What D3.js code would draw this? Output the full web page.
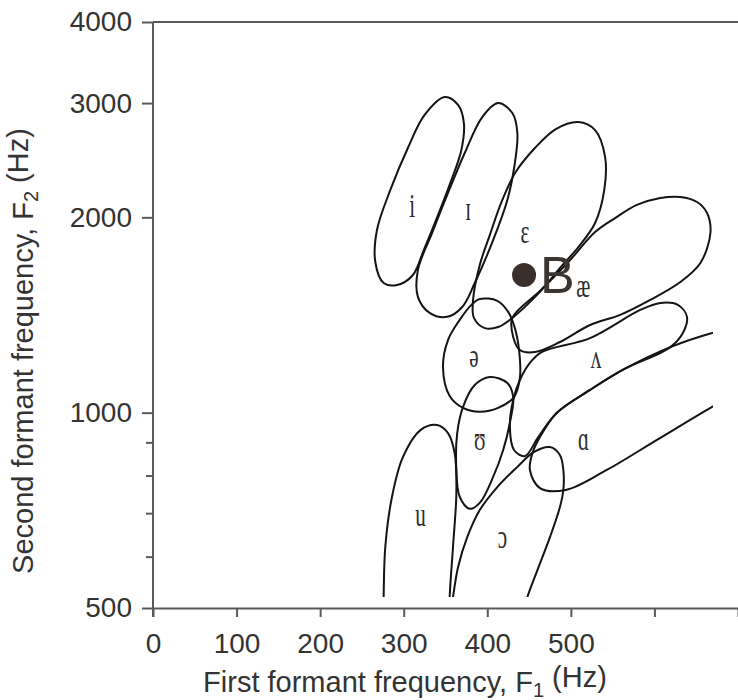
<!DOCTYPE html>
<html>
<head>
<meta charset="utf-8">
<script src="https://cdn.jsdelivr.net/npm/d3@7"></script>
<style>
    body { margin: 0; background: #fff; }
    svg { display: block; }
</style>
</head>
<body>
<svg id="chart" width="738" height="700"></svg>
<script>

// Axis ticks
const f1Ticks = [0, 100, 200, 300, 400, 500, 600, 700];
const f1Labels = [0, 100, 200, 300, 400, 500];
const f2Major = [500, 1000, 2000, 3000, 4000];
const f2Minor = [600, 700, 800, 900];

// Vowel region outlines, [F1 Hz, F2 Hz]
const vowelI = [[349,3065],[365,2980],[372,2795],[369,2540],[357,2283],[341,2016],[324,1781],[311,1630],[292,1573],[276,1584],[266,1707],[268,1912],[284,2204],[305,2558],[325,2876]];
const vowelSmallCapI = [[413,3000],[430,2896],[436,2697],[433,2425],[424,2127],[407,1845],[385,1584],[370,1455],[352,1405],[331,1425],[317,1508],[317,1659],[334,1892],[353,2181],[373,2513],[394,2855]];
const vowelEpsilon = [[509,2805],[529,2726],[541,2477],[540,2204],[529,1960],[509,1800],[487,1671],[463,1535],[430,1400],[413,1355],[397,1350],[384,1400],[383,1492],[391,1689],[403,1878],[418,2127],[434,2349],[457,2558],[482,2736]];
const vowelAsh = [[430,1400],[463,1540],[497,1707],[529,1898],[553,1995],[579,2090],[607,2142],[631,2150],[651,2112],[663,2031],[667,1892],[655,1701],[631,1590],[595,1492],[559,1415],[523,1365],[487,1285],[457,1240],[439,1249],[431,1308]];
const vowelSchwa = [[391,1497],[412,1487],[425,1430],[433,1350],[438,1249],[439,1131],[432,1057],[413,1017],[391,1003],[371,1017],[355,1061],[347,1176],[353,1294],[367,1390],[381,1466]];
const vowelWedge = [[639,1405],[634,1327],[619,1262],[562,1164],[523,1084],[483,999],[461,917],[445,857],[432,876],[427,957],[431,1046],[439,1123],[451,1193],[465,1240],[523,1303],[583,1440],[607,1476],[628,1466]];
const vowelUpsilon = [[403,1135],[424,1111],[431,1057],[427,964],[419,876],[407,796],[391,726],[379,711],[367,742],[363,816],[364,930],[371,1021],[385,1103]];
const vowelScriptA = [[451,816],[463,765],[494,760],[543,816],[603,908],[669,1021],[726,1123],[762,1249],[726,1380],[669,1327],[619,1262],[562,1164],[523,1084],[483,999],[463,917],[454,866]];
const vowelU = [[340,957],[353,930],[361,866],[363,752],[359,622],[355,520],[354,446],[317,408],[276,446],[276,520],[278,622],[286,742],[299,854],[320,940]];
const vowelOpenO = [[475,885],[487,860],[491,816],[491,760],[487,716],[475,643],[460,572],[448,520],[438,471],[397,416],[354,471],[359,520],[365,578],[376,643],[391,708],[412,768],[436,825],[456,870]];

// Vowel symbols and where they sit (baseline), in Hz
const vowelSymbols = ["i", "ɪ", "ɛ", "æ", "ə", "ʌ", "ʊ", "ɑ", "u", "ɔ"];
const symbolF1 = [310, 377, 445, 515, 384, 530, 391, 515, 320, 418];
const symbolF2 = [2000, 1981, 1825, 1508, 1176, 1172, 876, 876, 668, 618];

// Speaker point
const pointName = ["B"];
const pointF1 = [444];
const pointF2 = [1630];

function drawChart() {

    const svg = d3.select("#chart");
    const left = 153, right = 738, top = 22, bottom = 608;

    const x = d3.scaleLinear()
                .domain([0, 700])
                .range([left, right]);

    const y = d3.scaleLog()
                .domain([500, 4000])
                .range([bottom, top]);

    const axisColor = "#5a5a5a";
    const textColor = "#333";
    const sansFont = "'Liberation Sans', Arial, Helvetica, sans-serif";

    // Curves stop a little short of the right and bottom edges
    svg.append("clipPath")
       .attr("id", "plot-clip")
       .append("rect")
       .attr("x", 0)
       .attr("y", 0)
       .attr("width", x(670))
       .attr("height", y(520));

    // Top frame line
    svg.append("line")
       .attr("x1", left).attr("x2", right)
       .attr("y1", top).attr("y2", top)
       .attr("stroke", axisColor)
       .attr("stroke-width", 2);

    // Add x-axis
    svg.append("g")
       .attr("transform", `translate(0,${bottom})`)
       .call(d3.axisBottom(x)
               .tickValues(f1Ticks)
               .tickSize(9)
               .tickSizeOuter(0)
               .tickPadding(16)
               .tickFormat(d => f1Labels.includes(d) ? d : ""));

    // Add y-axis (major ticks)
    const yAxis = svg.append("g")
                     .attr("transform", `translate(${left},0)`)
                     .call(d3.axisLeft(y)
                             .tickValues(f2Major)
                             .tickSize(11)
                             .tickSizeOuter(0)
                             .tickPadding(10)
                             .tickFormat(d3.format("d")));

    // Minor ticks between 500 and 1000
    svg.append("g")
       .attr("transform", `translate(${left},0)`)
       .call(d3.axisLeft(y)
               .tickValues(f2Minor)
               .tickSize(7)
               .tickFormat(""))
       .call(g => g.select(".domain").remove());

    svg.selectAll(".domain, .tick line")
       .attr("stroke", axisColor)
       .attr("stroke-width", 2);

    // Let the y-axis reach down to the end of the 0 tick
    yAxis.select(".domain").attr("d", `M0,${top}V${bottom + 9}`);

    svg.selectAll(".tick text")
       .attr("fill", textColor)
       .style("font-family", sansFont)
       .style("font-size", "28px");

    // Axis titles
    const xTitle = svg.append("text")
                      .attr("x", 405)
                      .attr("y", 692)
                      .attr("text-anchor", "middle")
                      .attr("fill", textColor)
                      .style("font-family", sansFont)
                      .style("font-size", "29px");
    xTitle.append("tspan").text("First formant frequency, F");
    xTitle.append("tspan").attr("dy", "0.25em").style("font-size", "20px").text("1");
    xTitle.append("tspan").attr("dy", "-0.35em").text(" (Hz)");

    const yTitle = svg.append("text")
                      .attr("transform", "translate(33,351) rotate(-90)")
                      .attr("text-anchor", "middle")
                      .attr("fill", textColor)
                      .style("font-family", sansFont)
                      .style("font-size", "29px");
    yTitle.append("tspan").text("Second formant frequency, F");
    yTitle.append("tspan").attr("dy", "0.25em").style("font-size", "20px").text("2");
    yTitle.append("tspan").attr("dy", "-0.35em").text(" (Hz)");

    // Vowel regions
    const regions = [vowelI, vowelSmallCapI, vowelEpsilon, vowelAsh, vowelSchwa,
                     vowelWedge, vowelUpsilon, vowelScriptA, vowelU, vowelOpenO];

    const outline = d3.line()
                      .x(d => x(d[0]))
                      .y(d => y(d[1]))
                      .curve(d3.curveCatmullRomClosed.alpha(0.5));

    svg.append("g")
       .attr("clip-path", "url(#plot-clip)")
       .selectAll(".region")
       .data(regions)
       .enter()
       .append("path")
       .attr("class", "region")
       .attr("d", outline)
       .attr("fill", "none")
       .attr("stroke", "#141414")
       .attr("stroke-width", 2);

    // Vowel symbols
    svg.selectAll(".symbol")
       .data(vowelSymbols)
       .enter()
       .append("text")
       .attr("class", "symbol")
       .attr("transform", (d, i) => `translate(${x(symbolF1[i])},${y(symbolF2[i])}) scale(0.62,1)`)
       .attr("text-anchor", "middle")
       .attr("fill", "#2e2e2e")
       .style("font-family", "'Liberation Serif', 'DejaVu Serif', 'Times New Roman', serif")
       .style("font-size", "34px")
       .text(d => d);

    // Speaker point and its name
    svg.selectAll(".dot")
       .data(pointName)
       .enter()
       .append("circle")
       .attr("class", "dot")
       .attr("cx", (d, i) => x(pointF1[i]))
       .attr("cy", (d, i) => y(pointF2[i]))
       .attr("r", 12)
       .attr("fill", "#3a2f2a");

    svg.selectAll(".dot-label")
       .data(pointName)
       .enter()
       .append("text")
       .attr("class", "dot-label")
       .attr("x", (d, i) => x(pointF1[i]) + 16)
       .attr("y", (d, i) => y(pointF2[i]) + 18)
       .attr("fill", "#3b3531")
       .style("font-family", sansFont)
       .style("font-size", "52px")
       .text(d => d);
}

drawChart();
</script>
</body>
</html>
